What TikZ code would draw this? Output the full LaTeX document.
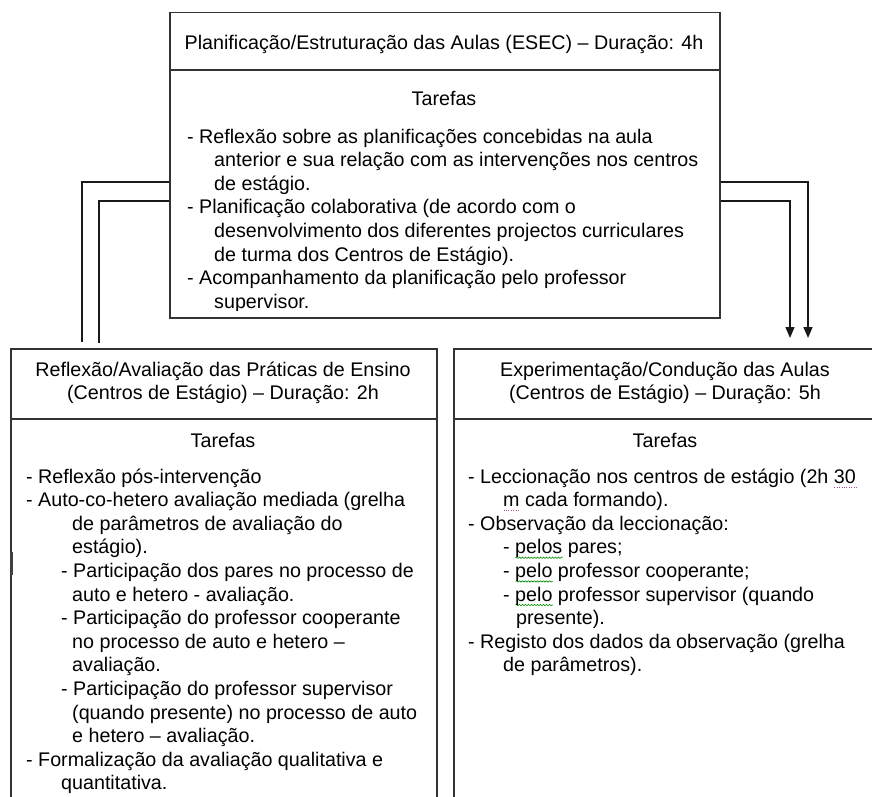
\documentclass[tikz,border=0pt]{standalone}
\usepackage{fontspec}
\setmainfont{Liberation Sans}
\usetikzlibrary{arrows.meta,decorations.pathmorphing}
\newcommand\fs{\fontsize{19.7}{23.6}\selectfont}
\newsavebox\wbox
\newlength\wlen
\newcommand\wavy[1]{\sbox\wbox{#1}\setlength\wlen{\wd\wbox}\rlap{\tikz[baseline=0pt]\draw[green!55!black,line width=0.6pt,decorate,decoration={snake,amplitude=0.7pt,segment length=3pt}] (0pt,-4pt) -- (\wlen,-4pt);}\usebox\wbox}
\newcommand\dotu[1]{\sbox\wbox{#1}\setlength\wlen{\wd\wbox}\rlap{\tikz[baseline=0pt]\draw[blue!45!red!70,line width=0.7pt,dash pattern=on 0.8pt off 1.6pt] (0pt,-4pt) -- (\wlen,-4pt);}\usebox\wbox}
\tikzset{
  box/.style={draw=black!80, line width=1.5pt, inner sep=0pt, anchor=north west},
  link/.style={draw=black!90, line width=1.4pt},
  tip/.style={-{Triangle[length=11pt,width=9pt]}},
  ttl/.style={font=\fs, text=black, inner sep=0pt, anchor=base},
  lst/.style={font=\fs, text=black, inner sep=0pt, anchor=base west},
}
\begin{document}
\begin{tikzpicture}[x=1pt,y=-1pt]
\clip (0,0) rectangle (872,797);
% boxes
\node[box, minimum width=550pt, minimum height=305pt] (top) at (169,12) {};
\node[box, minimum width=426pt, minimum height=470pt] (left) at (10,348) {};
\node[box, minimum width=424pt, minimum height=470pt] (right) at (453,348) {};
% dividers
\coordinate (dt) at (0,70);
\coordinate (db) at (0,419);
\draw[box] (top.west |- dt) -- (top.east |- dt);
\draw[box] (left.west |- db) -- (left.east |- db);
\draw[box] (right.west |- db) -- (right.east |- db);
% small glitch on the left edge
\draw[draw=black!75, line width=2.4pt] (11.5,552) -- (11.5,575);
% titles
\node[ttl] (tt) at (444,50) {Planificação/Estruturação das Aulas (ESEC) – Duração: 4h};
\node[ttl] (ttar) at (444,106) {Tarefas};
\node[ttl] (lt) at (223,376) {\parbox[t]{420pt}{\centering Reflexão/Avaliação das Práticas de Ensino\\(Centros de Estágio) – Duração: 2h}};
\node[ttl] (ltar) at (223,447) {Tarefas};
\node[ttl] (rt) at (665,376) {\parbox[t]{420pt}{\centering Experimentação/Condução das Aulas\\(Centros de Estágio) – Duração: 5h}};
\node[ttl] (rtar) at (665,447) {Tarefas};
% top list
\begin{scope}
\clip (169,12) rectangle (719,310);
\node[lst] (tl) at (187,143) {\parbox[t]{600pt}{\raggedright
- Reflexão sobre as planificações concebidas na aula\\
\hspace*{27pt}anterior e sua relação com as intervenções nos centros\\
\hspace*{27pt}de estágio.\\
- Planificação colaborativa (de acordo com o\\
\hspace*{27pt}desenvolvimento dos diferentes projectos curriculares\\
\hspace*{27pt}de turma dos Centros de Estágio).\\
- Acompanhamento da planificação pelo professor\\
\hspace*{27pt}supervisor.}};
\end{scope}
% left list
\node[lst] (ll) at (26,483) {\parbox[t]{600pt}{\raggedright
- Reflexão pós-intervenção\\
- Auto-co-hetero avaliação mediada (grelha\\
\hspace*{46pt}de parâmetros de avaliação do\\
\hspace*{46pt}estágio).\\
\hspace*{35pt}- Participação dos pares no processo de\\
\hspace*{46pt}auto e hetero - avaliação.\\
\hspace*{35pt}- Participação do professor cooperante\\
\hspace*{46pt}no processo de auto e hetero –\\
\hspace*{46pt}avaliação.\\
\hspace*{35pt}- Participação do professor supervisor\\
\hspace*{46pt}(quando presente) no processo de auto\\
\hspace*{46pt}e hetero – avaliação.\\
- Formalização da avaliação qualitativa e\\
\hspace*{35pt}quantitativa.}};
% right list
\node[lst] (rl) at (468,483) {\parbox[t]{600pt}{\raggedright
- Leccionação nos centros de estágio (2h \dotu{30}\\
\hspace*{35pt}\dotu{m} cada formando).\\
- Observação da leccionação:\\
\hspace*{35pt}- \wavy{pelos} pares;\\
\hspace*{35pt}- \wavy{pelo} professor cooperante;\\
\hspace*{35pt}- \wavy{pelo} professor supervisor (quando\\
\hspace*{48pt}presente).\\
- Registo dos dados da observação (grelha\\
\hspace*{35pt}de parâmetros).}};
% connectors
\coordinate (ya) at (0,182);
\coordinate (yb) at (0,201);
\coordinate (la) at (82,342);
\coordinate (lb) at (99,343);
\coordinate (ra) at (808,338);
\coordinate (rb) at (790,338);
\draw[link] (top.west |- ya) -| (la);
\draw[link] (top.west |- yb) -| (lb);
\draw[link,tip] (top.east |- ya) -| (ra);
\draw[link,tip] (top.east |- yb) -| (rb);
\end{tikzpicture}
\end{document}
